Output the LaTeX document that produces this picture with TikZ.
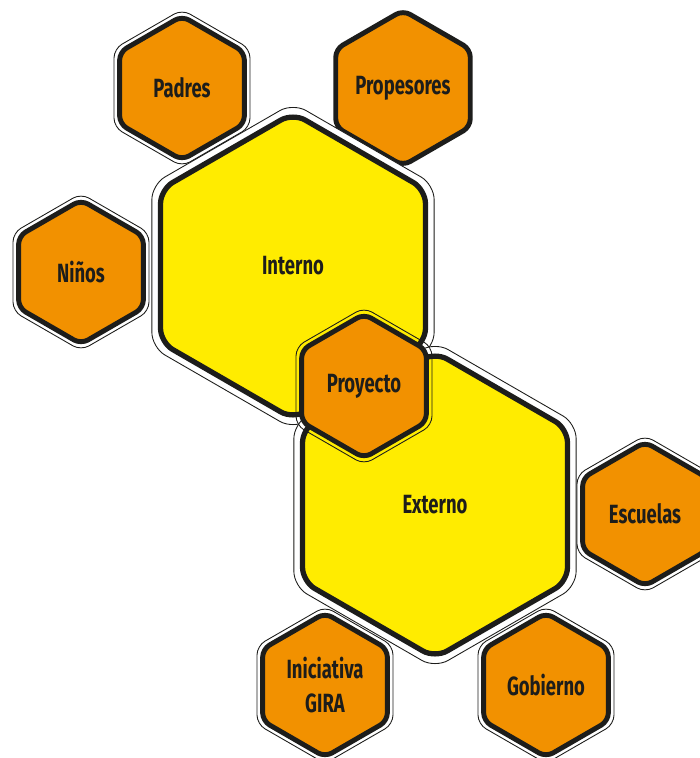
\documentclass[tikz,border=0pt]{standalone}
\usepackage{fontspec}
\newfontfamily\hexfont{Fira Sans}[FakeStretch=0.7]
\usetikzlibrary{shapes.geometric}
\definecolor{hexorange}{HTML}{F29100}
\definecolor{hexyellow}{HTML}{FFEC00}
\definecolor{hexline}{HTML}{1D1D1B}
\tikzset{
  hexbase/.style={regular polygon, regular polygon sides=6, shape border rotate=30, inner sep=0pt, draw=hexline},
  smallring/.style={hexbase, minimum size=3.14cm, line width=0.5pt, rounded corners=0.18cm},
  smallhex/.style={hexbase, minimum size=2.88cm, line width=2.8pt, fill=hexorange, rounded corners=0.16cm,
    text=hexline, align=center, font=\hexfont\bfseries\fontsize{15}{19}\selectfont},
  bigring/.style={hexbase, minimum size=6.52cm, line width=0.5pt, fill=white, rounded corners=0.3cm},
  bighex/.style={hexbase, minimum size=6.12cm, line width=3pt, fill=hexyellow, rounded corners=0.28cm,
    text=hexline, font=\hexfont\bfseries\fontsize{15}{19}\selectfont},
}

\begin{document}
\begin{tikzpicture}[x=0.02cm, y=-0.02cm]
    \useasboundingbox (0,0) rectangle (700,758);
    % outer ring hexagons
    \foreach \n/\x/\y/\t in {padres/182/88/Padres, profes/403/88/Propesores, ninos/81/272/Niños,
      escuelas/645/514/Escuelas, gira/325/685/{Iniciativa\\GIRA}, gobierno/546/685/Gobierno} {
      \node[smallring] (\n-o) at (\x,\y) {};
      \node[smallhex] (\n) at (\x,\y) {\t};
    }
    % the two big ones
    \node[bigring] (interno-o) at (293,266) {};
    \node[bighex] (interno) at (293,266) {Interno};
    \node[bigring] (externo-o) at (435,505) {};
    \node[bighex] (externo) at (435,505) {Externo};
    % in between
    \node[smallring] (proyecto-o) at (364,386) {};
    \node[smallhex] (proyecto) at (364,386) {Proyecto};
\end{tikzpicture}
\end{document}
